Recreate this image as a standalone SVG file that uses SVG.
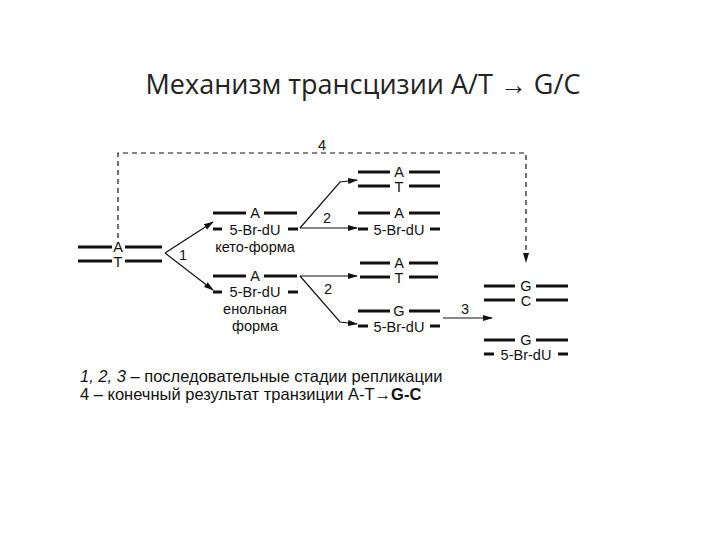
<svg xmlns="http://www.w3.org/2000/svg" width="720" height="540" viewBox="0 0 720 540">
<style>
.t{font-family:"Liberation Sans",Arial,sans-serif;font-size:14.5px;fill:#111;text-anchor:middle}
.s{stroke:#111;stroke-width:3}
.c{stroke:#111;stroke-width:1.2;fill:none}
</style>
<defs><marker id="a" markerWidth="10" markerHeight="8" refX="9" refY="4" orient="auto" markerUnits="userSpaceOnUse"><path d="M0,1 L10,4 L0,7 z" fill="#111"/></marker></defs>
<rect width="720" height="540" fill="#fff"/>
<text x="363" y="94" style="font-family:'Open Sans','Liberation Sans',sans-serif;font-size:27px;fill:#222;text-anchor:middle">Механизм трансцизии A/T → G/C</text>
<g id="connectors">
<path class="c" d="M118,238 V153 H526 V262" stroke-dasharray="5,4" marker-end="url(#a)"/>
<path class="c" d="M165,253 L213,222" marker-end="url(#a)"/>
<path class="c" d="M165,253 L213,290" marker-end="url(#a)"/>
<path class="c" d="M300,228 L340,182 L357,180" marker-end="url(#a)"/>
<path class="c" d="M300,228 H357" marker-end="url(#a)"/>
<path class="c" d="M300,276 H357" marker-end="url(#a)"/>
<path class="c" d="M300,276 L340,322 L357,324" marker-end="url(#a)"/>
<path class="c" d="M443,318 H492" marker-end="url(#a)"/>
<text class="t" x="322" y="150">4</text>
<text class="t" x="183" y="260">1</text>
<text class="t" x="327" y="223">2</text>
<text class="t" x="328" y="294">2</text>
<text class="t" x="465" y="314">3</text>
</g>
<g id="n0">
<path class="s" d="M78,247H112M125,247H162M78,261H112M125,261H162"/>
<text class="t" x="118" y="252">A</text><text class="t" x="118" y="267">T</text>
</g>
<g id="n1">
<path class="s" d="M213,213H246M264,213H297M213,229H222M288,229H298"/>
<text class="t" x="255" y="218">A</text><text class="t" x="255" y="235">5-Br-dU</text><text class="t" x="255" y="252">кето-форма</text>
</g>
<g id="n2">
<path class="s" d="M213,276H246M264,276H297M213,292H222M288,292H298"/>
<text class="t" x="255" y="281">A</text><text class="t" x="255" y="297">5-Br-dU</text><text class="t" x="255" y="314">енольная</text><text class="t" x="255" y="331">форма</text>
</g>
<g id="n3">
<path class="s" d="M358,172H390M409,172H440M358,186H390M409,186H440"/>
<text class="t" x="399" y="177">A</text><text class="t" x="399" y="192">T</text>
</g>
<g id="n4">
<path class="s" d="M358,213H390M409,213H440M358,229H368M430,229H440"/>
<text class="t" x="399" y="218">A</text><text class="t" x="399" y="235">5-Br-dU</text>
</g>
<g id="n5">
<path class="s" d="M360,263H390M409,263H438M360,277H390M409,277H438"/>
<text class="t" x="399" y="268">A</text><text class="t" x="399" y="283">T</text>
</g>
<g id="n6">
<path class="s" d="M358,311H390M409,311H440M358,326H368M430,326H440"/>
<text class="t" x="399" y="316">G</text><text class="t" x="399" y="332">5-Br-dU</text>
</g>
<g id="n7">
<path class="s" d="M484,286H515M536,286H568M484,300H515M536,300H568"/>
<text class="t" x="526" y="291">G</text><text class="t" x="526" y="306">C</text>
</g>
<g id="n8">
<path class="s" d="M484,340H515M536,340H568M484,354H494M558,354H568"/>
<text class="t" x="526" y="345">G</text><text class="t" x="526" y="360">5-Br-dU</text>
</g>
<g id="legend" style="font-family:'Liberation Sans',Arial,sans-serif;font-size:16.5px;fill:#111">
<text x="80" y="382"><tspan font-style="italic">1, 2, 3</tspan> – последовательные стадии репликации</text>
<text x="80" y="400">4 – конечный результат транзиции A-T<tspan font-weight="bold">→G-C</tspan></text>
</g>
</svg>
